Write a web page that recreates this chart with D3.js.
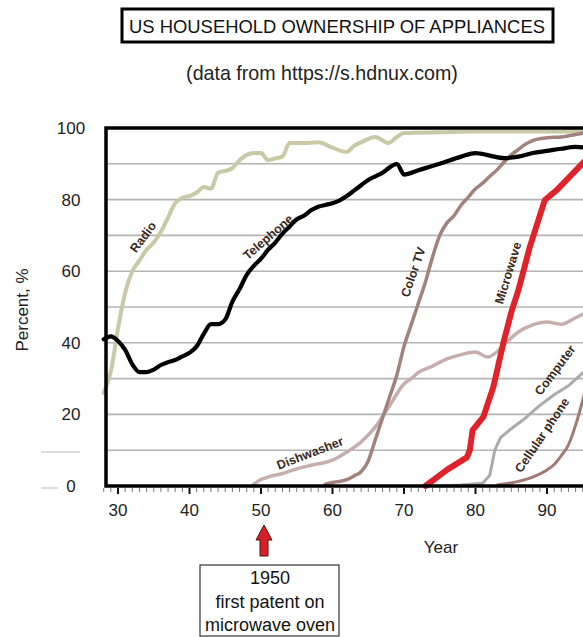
<!DOCTYPE html>
<html lang="en">
<head>
  <meta charset="UTF-8">
  <title>US household ownership of appliances</title>
  <style>
    body {
      margin: 0;
      padding: 0;
      background: #fff;
      font-family: Arial, 'Liberation Sans', sans-serif;
    }
    svg {
      display: block;
    }
    .grid line {
      stroke: #b4b4b4;
      stroke-width: 1.6px;
    }
    .series {
      fill: none;
      stroke-linejoin: round;
      stroke-linecap: round;
    }
    .series-label {
      font: bold 12.5px Arial, 'Liberation Sans', sans-serif;
      fill: #3a2a20;
    }
    .tick-label {
      font-size: 17px;
      fill: #222;
    }
  </style>
</head>
<body>
  <svg width="583" height="637"></svg>

  <script src="https://d3js.org/d3.v7.min.js"></script>
  <script>
    // readings: [year (19xx), percent]
    const radio = [[28, 26], [29, 32], [30, 44], [31, 54], [32, 60], [33, 63], [34, 66], [35, 68],
      [36, 71], [37, 75], [38, 79], [39, 80.5], [40, 81], [41, 82], [42, 83.5], [43, 83],
      [44, 87.5], [45, 88], [46, 88.8], [47, 91], [48, 92.5], [49, 93], [50, 93], [51, 91],
      [52, 91.5], [53, 92], [54, 95.8], [56, 95.8], [58, 96], [60, 94.5], [62, 93.3], [63, 95],
      [64, 96], [66, 97.5], [67.8, 95.8], [69, 97.5], [70, 98.6], [75, 98.8], [80, 99], [90, 99], [100, 99]];

    const telephone = [[28, 41], [29, 41.8], [30, 40.5], [31, 38], [32, 34], [33, 31.8], [34, 31.8],
      [35, 32.5], [36, 33.8], [37, 34.6], [38, 35.2], [39, 36.2], [40, 37.2], [41, 39], [42, 42.5],
      [43, 45.2], [44, 45.2], [45, 46.5], [46, 51.5], [47, 55], [48, 59], [49, 61.5], [50, 63.5],
      [51, 66], [52, 68], [53, 70.5], [54, 72.5], [55, 74.5], [56, 75.5], [57, 77], [58, 78],
      [59, 78.5], [60, 79], [61, 79.8], [62, 81], [63, 82.5], [64, 84], [65, 85.5], [66, 86.5],
      [67, 87.5], [68, 89], [69, 90], [70, 87], [72, 88.2], [75, 90], [78, 92], [80, 93],
      [82, 92.3], [84, 91.6], [86, 92], [88, 93], [90, 93.6], [92, 94.2], [94, 94.7], [96, 94.5], [100, 95]];

    const colorTv = [[59, 0.5], [60, 1], [61, 1.3], [62, 1.8], [63, 2.8], [64, 4], [65, 7], [66, 13],
      [67, 19], [68, 25], [69, 31], [70, 39], [71, 45], [72, 51], [73, 57], [74, 64], [75, 70],
      [76, 73.5], [77, 75.5], [78, 78.5], [79, 80.7], [80, 83], [81, 84.6], [82, 86.5], [83, 88.3],
      [84, 90.5], [85, 92.5], [86, 94], [87, 95.5], [88, 96.5], [89, 97], [90, 97.3], [92, 97.5],
      [94, 98.2], [96, 98.8], [100, 99]];

    const microwave = [[73, 0], [76, 4.5], [78.8, 8], [79.2, 10], [79.6, 15.6], [81.1, 19.3],
      [82.5, 27.7], [83.9, 40], [85.1, 49.2], [86, 54.7], [87.6, 66.8], [89.7, 79.9], [91.4, 82.7],
      [95, 90.2], [97, 94]];

    const dishwasher = [[49, 0.5], [50, 1.8], [51, 2.5], [53, 3.5], [55, 4.8], [57, 5.8], [60, 7.2],
      [62, 9.5], [64, 12.3], [66, 16.5], [68, 22.5], [70, 28.5], [71, 30], [72, 31.7], [74, 33.5],
      [76, 35.5], [78, 36.7], [80, 37.4], [81.7, 36], [83, 37.5], [84, 39.5], [86, 43], [88, 45],
      [90, 45.8], [92, 45.2], [94, 47], [96, 49]];

    const computer = [[75, 0], [78, 0.3], [81, 0.8], [82, 3], [82.7, 10], [83.5, 13.5], [85, 16],
      [87, 19], [89, 22.5], [91, 25.5], [93, 28], [95, 31.6], [97, 35]];

    const cellular = [[83, 0.3], [86, 1.3], [88, 2.5], [90, 4.5], [91, 6], [92, 8.5], [93, 11.5],
      [94, 17], [95, 24], [96, 32]];

    const yTicks = [0, 20, 40, 60, 80, 100];
    const xTicks = [30, 40, 50, 60, 70, 80, 90];
    const gridValues = [10, 20, 30, 40, 50, 60, 70, 80, 90];

    const svg = d3.select("svg");

    const x = d3.scaleLinear().domain([30, 90]).range([118, 547]);
    const y = d3.scaleLinear().domain([0, 100]).range([486, 128]);
    const xLeft = 106;
    const xRight = 625;

    // scale a text's font so it spans the width it has in the original
    function fitWidth(sel, width) {
      const node = sel.node();
      const size = parseFloat(sel.attr("font-size"));
      sel.attr("font-size", (size * width / node.getComputedTextLength()).toFixed(2) + "px");
      return sel;
    }

    // title block
    svg.append("rect")
      .attr("x", 122).attr("y", 9)
      .attr("width", 431).attr("height", 33)
      .attr("fill", "#fff").attr("stroke", "#000").attr("stroke-width", 3);
    svg.append("text")
      .attr("x", 337).attr("y", 32.5)
      .attr("text-anchor", "middle")
      .attr("font-size", "18px")
      .attr("fill", "#111")
      .text("US HOUSEHOLD OWNERSHIP OF APPLIANCES")
      .call(fitWidth, 416);
    svg.append("text")
      .attr("x", 322).attr("y", 80)
      .attr("text-anchor", "middle")
      .attr("font-size", "16px")
      .attr("fill", "#222")
      .text("(data from https://s.hdnux.com)")
      .call(fitWidth, 272);

    // faint leftover strokes left of the axis in the original
    svg.append("line").attr("x1", 41).attr("x2", 80).attr("y1", 452).attr("y2", 452)
      .attr("stroke", "#d0d0d0").attr("stroke-width", 1.5);
    svg.append("line").attr("x1", 41).attr("x2", 58).attr("y1", 488).attr("y2", 488)
      .attr("stroke", "#d0d0d0").attr("stroke-width", 1.5);

    // grid
    svg.append("g").attr("class", "grid")
      .selectAll("line")
      .data(gridValues)
      .enter().append("line")
      .attr("x1", xLeft).attr("x2", xRight)
      .attr("y1", d => y(d)).attr("y2", d => y(d));

    // series
    const smooth = d3.line().x(d => x(d[0])).y(d => y(d[1])).curve(d3.curveMonotoneX);
    const straight = d3.line().x(d => x(d[0])).y(d => y(d[1]));

    const series = [
      { data: radio, color: "#c9c9a6", width: 4, line: smooth },
      { data: dishwasher, color: "#c6aeac", width: 3.5, line: smooth },
      { data: colorTv, color: "#a3827c", width: 3.5, line: smooth },
      { data: computer, color: "#ababab", width: 3, line: straight },
      { data: cellular, color: "#a27b76", width: 3, line: smooth },
      { data: telephone, color: "#000", width: 4.2, line: smooth },
      { data: microwave, color: "#e0222a", width: 6, line: straight }
    ];

    svg.append("g").selectAll("path")
      .data(series)
      .enter().append("path")
      .attr("class", "series")
      .attr("stroke", d => d.color)
      .attr("stroke-width", d => d.width)
      .attr("d", d => d.line(d.data));

    // labels set along the curves
    const labels = [
      { text: "Radio", x: 143, y: 237, angle: -53 },
      { text: "Telephone", x: 268, y: 237, angle: -41 },
      { text: "Color TV", x: 413, y: 272, angle: -71 },
      { text: "Microwave", x: 508, y: 273, angle: -73 },
      { text: "Dishwasher", x: 310, y: 453, angle: -21 },
      { text: "Computer", x: 555, y: 370, angle: -53 },
      { text: "Cellular phone", x: 542, y: 435, angle: -56 }
    ];

    svg.append("g").selectAll("text")
      .data(labels)
      .enter().append("text")
      .attr("class", "series-label")
      .attr("text-anchor", "middle")
      .attr("dy", "0.35em")
      .attr("transform", d => `translate(${d.x},${d.y}) rotate(${d.angle})`)
      .text(d => d.text);

    // frame: left, top, bottom
    svg.append("path")
      .attr("d", `M${xRight},${y(100)}H${xLeft}V${y(0)}H${xRight}`)
      .attr("fill", "none")
      .attr("stroke", "#000")
      .attr("stroke-width", 3.5);

    // year ticks under the axis
    const years = d3.range(28, 101);
    svg.append("g").selectAll("line")
      .data(years)
      .enter().append("line")
      .attr("x1", d => x(d)).attr("x2", d => x(d))
      .attr("y1", y(0) + 2)
      .attr("y2", d => y(0) + (d % 10 === 0 ? 8 : 6))
      .attr("stroke", d => d % 10 === 0 ? "#111" : "#777")
      .attr("stroke-width", d => d % 10 === 0 ? 2 : 1);

    svg.append("g").selectAll("text")
      .data(xTicks)
      .enter().append("text")
      .attr("class", "tick-label")
      .attr("x", d => x(d))
      .attr("y", 516)
      .attr("text-anchor", "middle")
      .text(d => d);

    svg.append("g").selectAll("text")
      .data(yTicks)
      .enter().append("text")
      .attr("class", "tick-label")
      .attr("x", 71)
      .attr("y", d => y(d) + 6)
      .attr("text-anchor", "middle")
      .text(d => d);

    // axis titles
    svg.append("text")
      .attr("transform", "translate(28,310) rotate(-90)")
      .attr("text-anchor", "middle")
      .attr("font-size", "17px")
      .attr("fill", "#222")
      .text("Percent, %");
    svg.append("text")
      .attr("x", 441).attr("y", 553)
      .attr("text-anchor", "middle")
      .attr("font-size", "17px")
      .attr("fill", "#222")
      .text("Year");

    // patent note
    const ax = x(50) + 3;
    svg.append("path")
      .attr("d", `M${ax},525L${ax + 8},540H${ax + 4}V556H${ax - 4}V540H${ax - 8}Z`)
      .attr("fill", "#d42026")
      .attr("stroke", "#5a1010")
      .attr("stroke-width", 1);

    svg.append("rect")
      .attr("x", 200).attr("y", 565)
      .attr("width", 139).attr("height", 71)
      .attr("fill", "#fff").attr("stroke", "#333").attr("stroke-width", 1.2);

    const note = ["1950", "first patent on", "microwave oven"];
    svg.append("g").selectAll("text")
      .data(note)
      .enter().append("text")
      .attr("x", 270)
      .attr("y", (d, i) => 584 + i * 23.5)
      .attr("text-anchor", "middle")
      .attr("font-size", "18px")
      .attr("fill", "#111")
      .text(d => d);
  </script>
</body>
</html>
